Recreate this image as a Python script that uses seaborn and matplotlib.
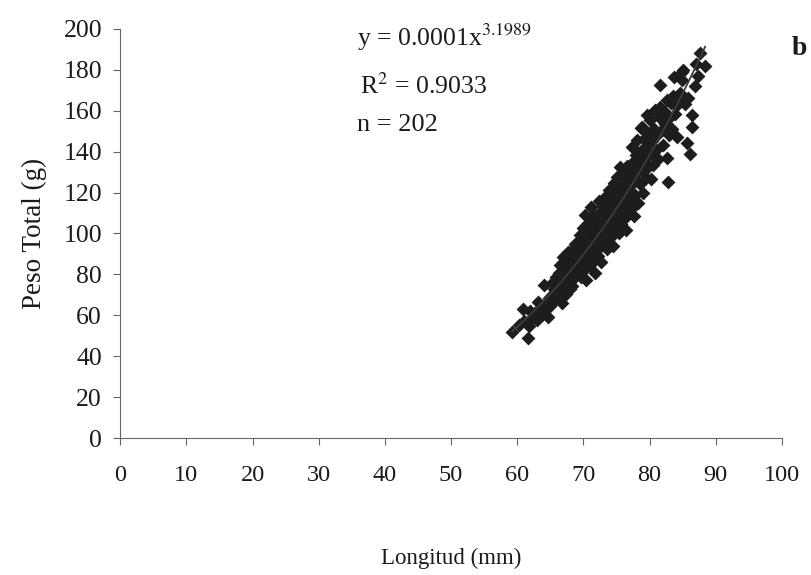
import numpy as np
import pandas as pd
import seaborn as sb
import matplotlib.pyplot as plt

# lengths (mm) and total weights (g), grouped by length range
longitud = [
    # 59-65
    59.2, 61.6, 60.9, 60.2, 61.0, 61.8, 62.3, 62.7, 63.0, 62.0,
    63.5, 63.8, 64.0, 64.3, 64.7, 64.8, 64.2, 63.2, 65.0, 65.3,
    # 65-69
    65.7, 65.5, 66.0, 66.2, 66.5, 66.9, 66.6, 66.8, 67.0, 67.2,
    67.4, 67.5, 67.8, 68.0, 68.1, 68.3, 68.5, 68.6, 68.8, 67.7,
    66.3, 65.8, 68.9, 68.4, 67.1, 66.0, 65.2, 67.9, 68.7, 66.7,
    # 69-73
    69.0, 69.1, 69.3, 69.4, 69.5, 69.6, 69.8, 70.0, 70.1, 70.2,
    70.3, 70.5, 70.6, 70.8, 70.9, 71.0, 71.1, 71.3, 71.5, 71.4,
    71.6, 71.7, 71.9, 72.0, 72.1, 72.2, 72.4, 72.5, 72.6, 72.8,
    72.9, 72.7, 69.9, 70.4, 71.2, 72.3, 69.2, 70.7, 71.8, 72.0,
    # 73-77
    73.0, 73.1, 73.2, 73.3, 73.4, 73.5, 73.6, 73.8, 73.9, 74.0,
    74.1, 74.2, 74.3, 74.5, 74.6, 74.7, 74.8, 74.9, 75.0, 75.1,
    75.2, 75.3, 75.5, 75.6, 75.7, 75.8, 75.9, 76.0, 76.1, 76.2,
    76.3, 76.4, 76.6, 76.7, 76.8, 76.9, 73.7, 74.4, 75.4, 76.5,
    # 77-81
    77.0, 77.1, 77.3, 77.2, 77.4, 77.5, 77.6, 77.8, 77.9, 78.0,
    78.1, 78.2, 78.3, 78.5, 78.6, 78.7, 78.9, 78.8, 79.0, 79.1,
    79.2, 79.4, 79.5, 79.6, 79.7, 79.8, 80.0, 80.1, 80.2, 80.3,
    80.5, 80.6, 80.8, 80.9, 77.7,
    # 81-85
    81.0, 81.2, 81.4, 81.6, 81.6, 82.8, 81.9, 82.0, 82.2, 82.4,
    82.6, 82.7, 82.9, 83.0, 83.2, 83.4, 83.6, 83.7, 83.8, 84.0,
    84.1, 84.3, 84.6, 84.9, 84.9,
    # 85-89
    85.0, 85.3, 85.6, 86.1, 86.4, 86.4, 85.8, 86.8, 87.0, 87.6,
    88.4, 87.3,
]
peso = [
    51.8, 48.9, 63.1, 55.5, 57.0, 55.0, 58.5, 61.1, 57.5, 62.0,
    63.5, 60.0, 74.8, 66.0, 59.2, 68.5, 63.0, 66.5, 64.5, 70.0,
    67.5, 73.0, 76.5, 69.0, 84.6, 88.5, 72.5, 78.0, 75.0, 81.0,
    70.5, 84.0, 77.0, 86.5, 80.0, 74.5, 83.0, 89.0, 78.5, 91.0,
    80.5, 78.5, 85.5, 92.5, 86.0, 71.0, 76.0, 73.0, 95.0, 66.0,
    81.5, 88.0, 93.5, 84.0, 99.0, 78.5, 90.0, 86.0, 95.5, 109.0,
    82.5, 92.0, 100.5, 88.5, 97.0, 84.5, 104.0, 91.0, 109.0, 95.0,
    87.0, 100.0, 93.0, 106.0, 97.5, 89.0, 102.0, 110.5, 94.5, 99.0,
    113.5, 86.0, 102.5, 77.5, 113.0, 116.0, 96.0, 105.0, 80.5, 92.0,
    104.5, 96.0, 109.0, 118.0, 100.5, 112.5, 92.5, 106.5, 121.0, 103.0,
    114.5, 98.5, 110.0, 118.5, 124.5, 106.0, 121.0, 101.0, 113.0, 127.5,
    109.0, 119.5, 132.5, 116.0, 104.5, 123.0, 111.5, 128.5, 119.0, 107.0,
    124.5, 114.0, 133.0, 120.5, 110.5, 127.0, 114.0, 94.0, 100.0, 101.5,
    117.0, 130.5, 142.0, 123.5, 112.5, 135.0, 126.5, 119.0, 138.5, 129.0,
    145.5, 115.0, 133.0, 124.0, 140.0, 151.5, 152.0, 130.5, 120.0, 146.0,
    136.0, 127.0, 142.5, 158.0, 132.5, 149.0, 139.0, 155.5, 126.5, 145.0,
    133.5, 151.0, 160.5, 141.0, 108.5,
    147.5, 136.5, 157.0, 162.0, 172.6, 125.0, 150.5, 143.0, 160.0, 153.5,
    137.0, 165.0, 148.0, 156.5, 163.5, 151.0, 167.0, 176.5, 158.5, 162.5,
    147.0, 165.5, 168.7, 179.0, 175.0,
    180.0, 163.0, 144.0, 139.0, 152.0, 158.0, 166.0, 172.0, 183.0, 188.0,
    182.0, 177.0,
]
x_ticks = [0, 10, 20, 30, 40, 50, 60, 70, 80, 90, 100]
y_ticks = [0, 20, 40, 60, 80, 100, 120, 140, 160, 180, 200]

df = pd.DataFrame({'Longitud': longitud, 'Peso': peso})

# power trendline fitted on log-log
b, log_a = np.polyfit(np.log(df['Longitud']), np.log(df['Peso']), 1)
xs = np.linspace(df['Longitud'].min(), df['Longitud'].max(), 100)
fit = pd.DataFrame({'x': xs, 'y': np.exp(log_a) * xs ** b})

sb.set_style('ticks')
plt.rcParams['font.family'] = ['Liberation Serif', 'DejaVu Serif']
plt.rcParams['mathtext.fontset'] = 'stix'

fig = plt.figure(figsize=(8.12, 5.75), dpi=100)
ax = fig.add_axes([0.148, 0.238, 0.815, 0.712])

sb.scatterplot(data=df, x='Longitud', y='Peso', marker='D', color='#1b1e1b',
               s=50, linewidth=0, ax=ax, zorder=3)
sb.lineplot(data=fit, x='x', y='y', color='#3a3d3a', linewidth=1.3, ax=ax, zorder=4)

ax.set_xlim(0, 100)
ax.set_ylim(0, 200)
ax.set_xticks(x_ticks)
ax.set_yticks(y_ticks)
ax.tick_params(axis='both', length=5, width=0.8, color='#666666',
               labelcolor='#1a1a1a', direction='out')
ax.tick_params(axis='x', pad=14, labelsize=17.5)
ax.tick_params(axis='y', pad=8, labelsize=18.5)
for side in ['top', 'right']:
    ax.spines[side].set_visible(False)
for side in ['left', 'bottom']:
    ax.spines[side].set_color('#666666')
    ax.spines[side].set_linewidth(0.8)

ax.set_xlabel('Longitud (mm)', fontsize=16.5, color='#1a1a1a', labelpad=45)
ax.set_ylabel('Peso Total (g)', fontsize=19.5, color='#1a1a1a', labelpad=12)

ax.text(35.8, 196, 'y = 0.0001x$^{3.1989}$', fontsize=18.5, ha='left', va='center', color='#1a1a1a')
ax.text(36.3, 172, 'R$^{2}$ = 0.9033', fontsize=18.5, ha='left', va='center', color='#1a1a1a')
ax.text(35.8, 153, 'n = 202', fontsize=19, ha='left', va='center', color='#1a1a1a')
fig.text(0.985, 0.915, 'b', fontsize=20, fontweight='bold', ha='center', va='center', color='#1a1a1a')

plt.savefig('out.png', dpi=100)
